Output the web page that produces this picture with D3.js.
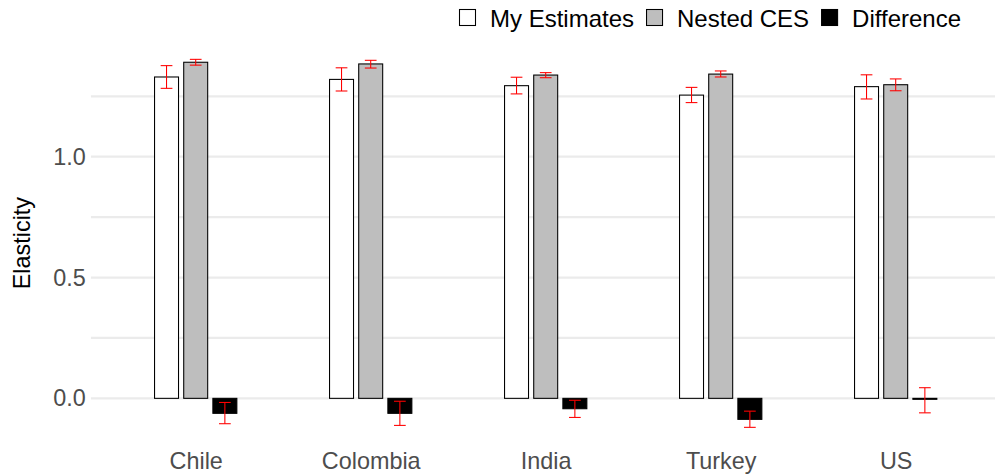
<!DOCTYPE html>
<html>
<head>
<meta charset="utf-8">
<script src="https://cdn.jsdelivr.net/npm/d3@7"></script>
<style>
  html, body { margin: 0; padding: 0; background: #fff; }
  svg { display: block; font-family: "Liberation Sans", Arial, Helvetica, sans-serif; }
</style>
</head>
<body>
<svg id="chart" width="995" height="476"></svg>
<script>
// ---- data ----
const categories = ["Chile", "Colombia", "India", "Turkey", "US"];
const seriesNames = ["My Estimates", "Nested CES", "Difference"];

const myEstimates   = [1.330, 1.320, 1.294, 1.255, 1.290];
const myEstLow      = [1.283, 1.272, 1.260, 1.224, 1.239];
const myEstHigh     = [1.377, 1.368, 1.329, 1.287, 1.339];

const nestedCES     = [1.391, 1.384, 1.338, 1.342, 1.298];
const nestedLow     = [1.379, 1.367, 1.327, 1.330, 1.273];
const nestedHigh    = [1.403, 1.399, 1.348, 1.355, 1.322];

const difference    = [-0.062, -0.062, -0.043, -0.087, -0.004];
const diffLow       = [-0.105, -0.112, -0.079, -0.120, -0.060];
const diffHigh      = [-0.017, -0.012, -0.008, -0.053, 0.044];

const yTicks = [0.0, 0.5, 1.0];
const yTickLabels = ["0.0", "0.5", "1.0"];
const yMinorTicks = [0.25, 0.75, 1.25];

// ---- build rows ----
const seriesData = [
  { name: seriesNames[0], values: myEstimates, low: myEstLow, high: myEstHigh },
  { name: seriesNames[1], values: nestedCES,   low: nestedLow, high: nestedHigh },
  { name: seriesNames[2], values: difference,  low: diffLow,   high: diffHigh }
];
const rows = [];
categories.forEach((c, i) => {
  seriesData.forEach((s, j) => {
    rows.push({ cat: c, series: s.name, idx: j, value: s.values[i], low: s.low[i], high: s.high[i] });
  });
});

const fills = { "My Estimates": "#FFFFFF", "Nested CES": "#BEBEBE", "Difference": "#000000" };

// ---- layout ----
const panel = { left: 90.7, right: 1000.7, top: 40.5, bottom: 445.7 };
const FS = "23.4px";
const LFS = "24px";

const svg = d3.select("#chart");

const x = d3.scalePoint().domain(categories).range([panel.left, panel.right]).padding(0.6);
const step = x.step();
const dodge = d3.scalePoint().domain(seriesNames).range([-step * 0.5 / 3, step * 0.5 / 3]);
const barW = step * 0.137;
const errW = step * 0.067;

const y = d3.scaleLinear().domain([-0.196, 1.481]).range([panel.bottom, panel.top]);

svg.append("defs").append("clipPath").attr("id", "pclip")
  .append("rect").attr("x", panel.left).attr("y", panel.top)
  .attr("width", panel.right - panel.left).attr("height", panel.bottom - panel.top);

// gridlines
const grid = svg.append("g").attr("clip-path", "url(#pclip)");
grid.selectAll("line.minor").data(yMinorTicks).join("line")
  .attr("class", "minor")
  .attr("x1", panel.left).attr("x2", panel.right)
  .attr("y1", d => y(d)).attr("y2", d => y(d))
  .attr("stroke", "#EBEBEB").attr("stroke-width", 2.2);
grid.selectAll("line.major").data(yTicks).join("line")
  .attr("class", "major")
  .attr("x1", panel.left).attr("x2", panel.right)
  .attr("y1", d => y(d)).attr("y2", d => y(d))
  .attr("stroke", "#EBEBEB").attr("stroke-width", 2.2);

// bars
svg.append("g").selectAll("rect").data(rows).join("rect")
  .attr("x", d => x(d.cat) + dodge(d.series) - barW / 2)
  .attr("width", barW)
  .attr("y", d => y(Math.max(0, d.value)))
  .attr("height", d => Math.abs(y(d.value) - y(0)))
  .attr("fill", d => fills[d.series])
  .attr("stroke", "#000")
  .attr("stroke-width", 1.07);

// error bars
const eg = svg.append("g").attr("stroke", "#FF0000").attr("stroke-width", 1.07).attr("fill", "none");
rows.forEach(d => {
  const cx = x(d.cat) + dodge(d.series);
  eg.append("line").attr("x1", cx).attr("x2", cx).attr("y1", y(d.high)).attr("y2", y(d.low));
  eg.append("line").attr("x1", cx - errW / 2).attr("x2", cx + errW / 2).attr("y1", y(d.high)).attr("y2", y(d.high));
  eg.append("line").attr("x1", cx - errW / 2).attr("x2", cx + errW / 2).attr("y1", y(d.low)).attr("y2", y(d.low));
});

// y axis (labels only)
const yAxis = d3.axisLeft(y).tickValues(yTicks).tickFormat((d, i) => yTickLabels[i]).tickSize(0).tickPadding(5);
const ya = svg.append("g").attr("transform", `translate(${panel.left},0)`).call(yAxis);
ya.select(".domain").remove();
ya.selectAll("text").attr("fill", "#4D4D4D").style("font-size", FS)
  .style("font-family", "'Liberation Sans', Arial, sans-serif");

// x axis (labels only)
const xAxis = d3.axisBottom(x).tickSize(0).tickPadding(7);
const xa = svg.append("g").attr("transform", `translate(0,${panel.bottom})`).call(xAxis);
xa.select(".domain").remove();
xa.selectAll("text").attr("fill", "#4D4D4D").style("font-size", FS)
  .style("font-family", "'Liberation Sans', Arial, sans-serif");

// y title
svg.append("text")
  .attr("transform", `translate(30,${(panel.top + panel.bottom) / 2}) rotate(-90)`)
  .attr("text-anchor", "middle")
  .style("font-size", FS)
  .attr("fill", "#000")
  .text("Elasticity");

// legend
const leg = svg.append("g").attr("transform", "translate(459,9)");
let lx = 0;
seriesNames.forEach(name => {
  const g = leg.append("g").attr("transform", `translate(${lx},0)`);
  g.append("rect").attr("x", 0.5).attr("y", 0.5).attr("width", 16).attr("height", 16)
    .attr("fill", fills[name]).attr("stroke", "#000").attr("stroke-width", 1.07);
  const t = g.append("text").attr("x", 31).attr("y", 17.5).style("font-size", LFS)
    .attr("fill", "#000").text(name);
  lx += 31 + t.node().getComputedTextLength() + 12;
});
</script>
</body>
</html>
